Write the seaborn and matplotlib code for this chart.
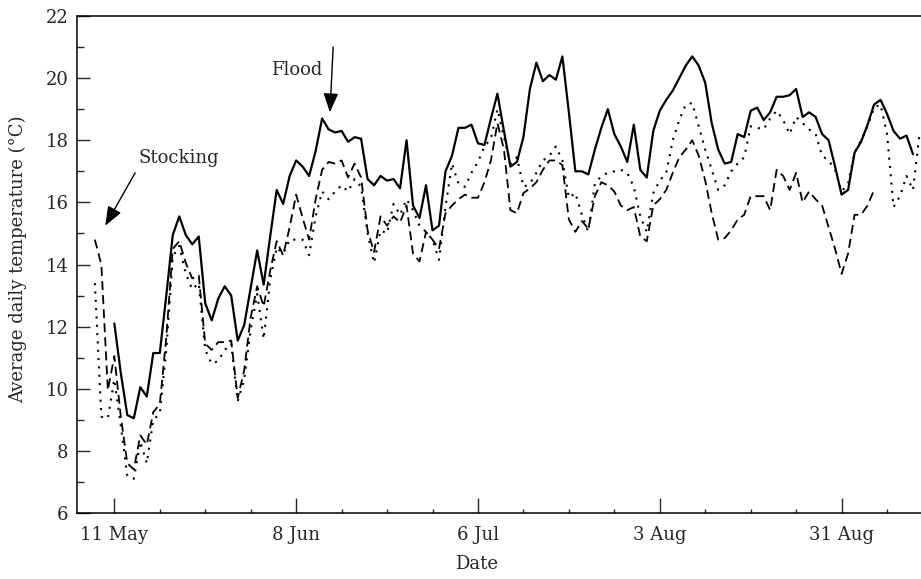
import pandas as pd
import seaborn as sns
import matplotlib.pyplot as plt


# daily mean temperatures
solid_start = "1999-05-11"
solid_temp = [12.1, 10.5, 9.15, 9.05, 10.05, 9.75, 11.15, 11.15, 13.0, 14.95,
              15.55, 14.95, 14.65, 14.9, 12.75, 12.2, 12.9, 13.3, 13.0, 11.55,
              12.05, 13.25, 14.45, 13.35, 14.9, 16.4, 15.95, 16.85, 17.35, 17.15,
              16.85, 17.65, 18.7, 18.35, 18.25, 18.3, 17.95, 18.1, 18.05, 16.75,
              16.55, 16.85, 16.7, 16.75, 16.45, 18.0, 15.9, 15.5, 16.55, 15.1,
              15.25, 17.0, 17.5, 18.4, 18.4, 18.5, 17.9, 17.85, 18.7, 19.5,
              18.3, 17.15, 17.3, 18.1, 19.65, 20.5, 19.9, 20.1, 19.95, 20.7,
              18.9, 17.0, 17.0, 16.9, 17.7, 18.4, 19.0, 18.2, 17.8, 17.3,
              18.5, 17.05, 16.8, 18.3, 18.95, 19.3, 19.6, 20.0, 20.4, 20.7,
              20.4, 19.85, 18.55, 17.7, 17.25, 17.3, 18.2, 18.1, 18.95, 19.05,
              18.65, 18.9, 19.4, 19.4, 19.45, 19.65, 18.75, 18.9, 18.75, 18.2,
              18.0, 17.15, 16.25, 16.4, 17.6, 17.95, 18.5, 19.15, 19.3, 18.85,
              18.3, 18.05, 18.15, 17.55]

dashed_start = "1999-05-08"
dashed_temp = [14.8, 14.0, 9.95, 11.05, 9.1, 7.6, 7.4, 8.5, 8.2, 9.25,
               9.5, 11.65, 14.5, 14.75, 14.05, 13.55, 13.65, 11.45, 11.25, 11.5,
               11.5, 11.55, 9.7, 10.6, 12.3, 13.3, 12.65, 13.8, 14.75, 14.3,
               15.2, 16.25, 15.5, 14.8, 16.1, 17.05, 17.3, 17.25, 17.35, 16.8,
               17.25, 16.8, 15.1, 14.4, 15.55, 15.25, 15.55, 15.35, 15.9, 14.35,
               14.1, 15.05, 14.8, 14.5, 15.65, 15.9, 16.1, 16.25, 16.15, 16.15,
               16.65, 17.35, 18.55, 17.7, 15.75, 15.65, 16.3, 16.45, 16.65, 17.05,
               17.35, 17.35, 17.2, 15.45, 15.05, 15.4, 15.15, 16.2, 16.65, 16.55,
               16.35, 15.9, 15.75, 15.85, 14.9, 14.75, 15.9, 16.1, 16.4, 16.95,
               17.45, 17.7, 18.0, 17.5, 16.7, 15.65, 14.8, 14.85, 15.1, 15.45,
               15.6, 16.2, 16.2, 16.2, 15.75, 17.05, 16.85, 16.4, 16.95, 16.0,
               16.35, 16.1, 15.9, 15.2, 14.5, 13.7, 14.35, 15.6, 15.6, 15.9,
               16.4]

dotted_start = "1999-05-08"
dotted_temp = [13.4, 9.1, 9.05, 10.3, 8.8, 7.2, 7.1, 8.3, 7.6, 9.0,
               9.2, 11.25, 14.25, 14.6, 13.7, 13.2, 13.4, 11.25, 10.8, 10.9,
               11.25, 11.45, 9.6, 10.3, 11.9, 13.05, 11.6, 13.5, 14.55, 14.35,
               14.8, 14.8, 14.8, 14.3, 15.55, 16.35, 16.1, 16.35, 16.55, 16.35,
               16.75, 16.5, 15.0, 14.05, 15.1, 15.0, 15.95, 15.6, 16.1, 15.75,
               15.25, 15.05, 14.8, 14.15, 15.85, 17.25, 16.6, 16.5, 16.95, 17.3,
               17.8, 18.05, 19.0, 18.1, 17.25, 17.45, 16.5, 16.6, 16.95, 17.35,
               17.5, 17.8, 17.35, 16.15, 16.3, 15.6, 15.05, 16.6, 16.85, 16.95,
               17.0, 17.05, 16.95, 16.5, 15.55, 15.05, 16.3, 16.7, 16.95, 18.0,
               18.65, 19.15, 19.2, 18.45, 17.7, 17.05, 16.4, 16.55, 17.0, 17.25,
               17.45, 18.45, 18.4, 18.35, 18.7, 18.95, 18.65, 18.2, 18.75, 18.55,
               18.35, 18.2, 17.5, 17.35, 17.05, 16.35, 16.6, 17.6, 18.0, 18.45,
               19.05, 19.15, 18.2, 15.85, 16.2, 16.85, 16.4, 18.2]

tick_dates = ["1999-05-11", "1999-06-08", "1999-07-06", "1999-08-03", "1999-08-31"]
tick_labels = ["11 May", "8 Jun", "6 Jul", "3 Aug", "31 Aug"]


def to_frame(start, temps):
    return pd.DataFrame({"date": pd.date_range(start, periods=len(temps), freq="D"),
                         "temp": temps})


sns.set_style("ticks")
plt.rcParams["font.family"] = ["DejaVu Serif"]
plt.rcParams["font.size"] = 13

fig = plt.figure(figsize=(9.21, 5.79), dpi=100)
ax = fig.add_axes([77 / 921, 66 / 579, 849 / 921, 497 / 579])

sns.lineplot(data=to_frame(solid_start, solid_temp), x="date", y="temp", ax=ax,
             color="black", lw=1.6, linestyle="-")
sns.lineplot(data=to_frame(dashed_start, dashed_temp), x="date", y="temp", ax=ax,
             color="black", lw=1.3, linestyle=(0, (5, 2.8)))
sns.lineplot(data=to_frame(dotted_start, dotted_temp), x="date", y="temp", ax=ax,
             color="black", lw=1.5, linestyle=(0, (1, 3)))

base = pd.Timestamp("1999-05-11")
day = lambda d: base + pd.Timedelta(days=d)

ax.set_xticks(pd.to_datetime(tick_dates))
ax.set_xticklabels(tick_labels)
ax.set_xticks(pd.date_range("1999-05-18", "1999-09-07", freq="7D"), minor=True)
ax.set_yticks(range(6, 23, 2))
ax.set_yticks(range(7, 22, 2), minor=True)

# limits after the ticks, set_xticks widens the view otherwise
ax.set_xlim(day(-5.75), day(125))
ax.set_ylim(6, 22)

ax.tick_params(axis="x", which="major", direction="in", length=11, width=1, pad=9, labelsize=13)
ax.tick_params(axis="x", which="minor", direction="in", length=3, width=1)
ax.tick_params(axis="y", which="major", direction="in", length=9, width=1, pad=6, labelsize=13)
ax.tick_params(axis="y", which="minor", direction="in", length=5, width=1)

for side in ["left", "top", "bottom"]:
    ax.spines[side].set_visible(True)
    ax.spines[side].set_linewidth(1.1)
    ax.spines[side].set_color("black")
ax.spines["right"].set_visible(False)

ax.set_xlabel("Date", fontsize=13)
ax.xaxis.set_label_coords(0.471, -0.085)
ax.set_ylabel("Average daily temperature (°C)", fontsize=13)
ax.yaxis.set_label_coords(-0.059, 0.51)

arrow = dict(arrowstyle="-|>,head_length=0.9,head_width=0.35", color="black", lw=1.0,
             shrinkA=0, shrinkB=0)
ax.annotate("", xy=(day(33.2), 18.9), xytext=(day(33.7), 21.0), arrowprops=arrow)
ax.text(day(28.1), 20.26, "Flood", ha="center", va="center", fontsize=13)
ax.annotate("", xy=(day(-1.4), 15.25), xytext=(day(3.2), 16.95), arrowprops=arrow)
ax.text(day(10.0), 17.43, "Stocking", ha="center", va="center", fontsize=13)

fig.savefig("out.png", dpi=100)
